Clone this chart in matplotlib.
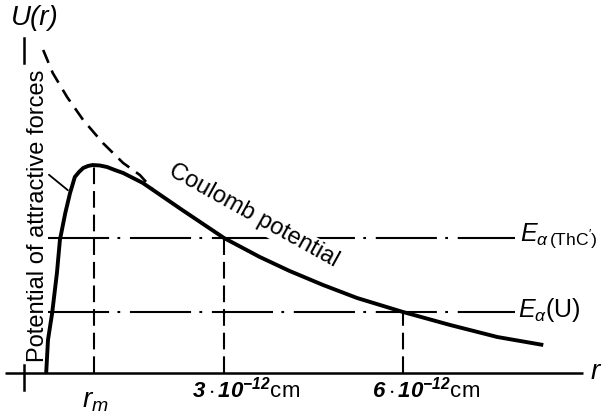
import matplotlib
matplotlib.use("Agg")
import matplotlib.pyplot as plt

plt.rcParams['font.family'] = 'Liberation Sans'
plt.rcParams['mathtext.fontset'] = 'custom'
plt.rcParams['mathtext.rm'] = 'Liberation Sans'
plt.rcParams['mathtext.it'] = 'Liberation Sans:italic'
plt.rcParams['mathtext.bf'] = 'Liberation Sans:bold:italic'
plt.rcParams['lines.scale_dashes'] = False

# r in units of 1e-12 cm, U in arbitrary units (schematic figure)
r_total = [0.02, 0.05, 0.12, 0.2, 0.25, 0.34, 0.42, 0.5, 0.57, 0.64, 0.72, 0.8, 0.92,
           1.04, 1.17, 1.31, 1.64, 2.3, 3.0, 3.6, 4.1, 4.66, 5.23, 6.0, 6.79, 7.58, 8.35]
U_total = [0.0, 0.33, 0.6, 1.0, 1.33, 1.6, 1.8, 1.96, 2.01, 2.05, 2.07, 2.08, 2.075,
           2.06, 2.03, 2.0, 1.9, 1.63, 1.35, 1.16, 1.02, 0.88, 0.75, 0.61, 0.48, 0.36, 0.28]

r_coulomb = [-0.03, 0.13, 0.37, 0.64, 0.97, 1.31, 1.59, 1.8]
U_coulomb = [3.23, 3.0, 2.76, 2.53, 2.3, 2.1, 1.98, 1.84]

r_m, U_peak = 0.82, 2.08
E_levels = [1.35, 0.61]
E_labels = [r"$\mathit{E}_{\alpha\,\mathrm{(ThC')}}$", r"$\mathit{E}_{\alpha}$(U)"]
r_cross = [3.0, 6.0]
tick_labels = [r"$\mathbf{3\cdot10^{-12}}$cm", r"$\mathbf{6\cdot10^{-12}}$cm"]

fig = plt.figure(figsize=(6.07, 4.18), dpi=100)
ax = fig.add_axes([0, 0, 1, 1])
ax.set_xlim(-0.754, 9.418)
ax.set_ylim(-0.45, 3.73)
ax.axis('off')

# hand-drawn style axes
y_axis_r = -0.352
ax.plot([-0.67, 9.02], [0, 0], color='black', lw=1.8, solid_capstyle='butt', zorder=2)
ax.plot([y_axis_r, y_axis_r], [3.35, 3.1], color='black', lw=1.8, zorder=2)
ax.plot([y_axis_r, y_axis_r], [0.08, -0.17], color='black', lw=1.8, zorder=2)

# energy levels (dash-dot), pattern chosen so both ends finish on a dash
for E in E_levels:
    ax.plot([0.05, 7.88], [E, E], color='black', lw=1.5,
            dashes=(44, 6, 2, 7), zorder=1)

# vertical dashed lines
ax.plot([r_m, r_m], [0, U_peak], color='black', lw=1.5, dashes=(12, 5), zorder=1)
for rc, E in zip(r_cross, E_levels):
    ax.plot([rc, rc], [0, E], color='black', lw=1.5, dashes=(12, 5), zorder=1)

# curves
ax.plot(r_coulomb, U_coulomb, color='black', lw=1.9, dashes=(10, 6), zorder=3)
ax.plot(r_total, U_total, color='black', lw=2.8, solid_joinstyle='round',
        solid_capstyle='butt', zorder=4)

# labels
ax.text(-0.17, 3.55, "U(r)", fontsize=20, style='italic', ha='center', va='center')
ax.text(9.22, 0.01, "r", fontsize=20, style='italic', ha='center', va='center')
ax.text(0.84, -0.28, r"$r_m$", fontsize=20, ha='center', va='center')
ax.text(3.37, -0.17, tick_labels[0], fontsize=16, ha='center', va='center')
ax.text(6.39, -0.17, tick_labels[1], fontsize=16, ha='center', va='center')
ax.text(7.96, 1.37, E_labels[0], fontsize=18, ha='left', va='center')
ax.text(7.93, 0.63, E_labels[1], fontsize=18, ha='left', va='center')

ax.text(-0.11, 1.57, "Potential of attractive forces", fontsize=17, rotation=90,
        ha='center', va='center')
ax.annotate("", xy=(0.42, 1.81), xytext=(0.03, 2.0),
            arrowprops=dict(arrowstyle='-', color='black', lw=1.3))
ax.text(3.49, 1.57, "Coulomb potential", fontsize=17, rotation=-29,
        ha='center', va='center', zorder=2,
        bbox=dict(boxstyle='square,pad=0.05', fc='white', ec='none'))

fig.savefig("out.png", dpi=100)
